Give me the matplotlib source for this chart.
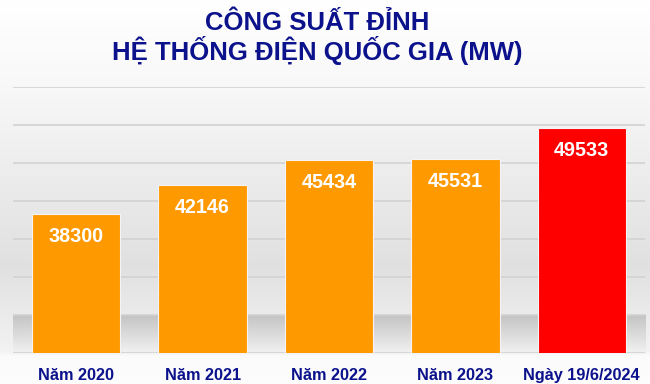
import numpy as np
import matplotlib.pyplot as plt

# Dữ liệu
categories = ['Năm 2020', 'Năm 2021', 'Năm 2022', 'Năm 2023', 'Ngày 19/6/2024']
values = [38300, 42146, 45434, 45531, 49533]
bar_colors = ['#FF9900', '#FF9900', '#FF9900', '#FF9900', '#FF0000']

W, H = 650, 384
navy = '#0b128c'
fig = plt.figure(figsize=(W / 100, H / 100), dpi=100)

# nền xám chuyển màu (giống kiểu nền của Excel)
yy = np.arange(H)
prof = np.interp(yy, [0, 80, 265, 350, 356, 384], [1.0, 0.975, 0.88, 0.95, 0.985, 0.99])
img = np.repeat(prof[:, None], W, axis=1)
band = (yy >= 315) & (yy <= 353)
xs = np.arange(W)
inside = (xs >= 13) & (xs <= 645)
t = (yy[band] - 315) / 38.0
img[np.ix_(band, inside)] = (0.77 + 0.18 * t)[:, None]
bg = fig.add_axes([0, 0, 1, 1], zorder=-10)
bg.imshow(np.dstack([img, img, img]), aspect='auto', extent=[0, 1, 0, 1],
          interpolation='bilinear')
bg.axis('off')

ax = fig.add_axes([13 / W, 1 - 353.3 / H, 632 / W, (353.3 - 86.7) / H])
ax.patch.set_alpha(0)
x = np.arange(len(categories))
ax.bar(x, values, width=0.7, color=bar_colors, edgecolor='#f4f4f4',
       linewidth=0.8, zorder=3)
ax.set_ylim(20000, 55000)
ax.set_xlim(-0.5, 4.5)
ax.set_yticks(range(20000, 55001, 5000))
ax.yaxis.grid(True, color='#d2d2d2', linewidth=1.2, zorder=0)
ax.tick_params(left=False, bottom=False, labelleft=False)
for s in ax.spines.values():
    s.set_visible(False)
ax.set_xticks(x)
ax.set_xticklabels(categories, fontfamily='Liberation Sans', fontweight='bold',
                   fontsize=11.7, color=navy)
ax.tick_params(axis='x', pad=7)

for xi, v in zip(x, values):
    ax.annotate(str(v), (xi, v), xytext=(0, -20.2), textcoords='offset points',
                ha='center', va='baseline', color='white', fontsize=14.2,
                fontweight='bold', fontfamily='Liberation Sans', zorder=4)

fig.text(317 / W, 1 - 30 / H, 'CÔNG SUẤT ĐỈNH', ha='center', va='baseline',
         fontsize=18.5, fontweight='bold', fontfamily='Liberation Sans', color=navy)
fig.text(317 / W, 1 - 60 / H, 'HỆ THỐNG ĐIỆN QUỐC GIA (MW)', ha='center',
         va='baseline', fontsize=18.5, fontweight='bold', fontfamily='Liberation Sans',
         color=navy)

fig.savefig('out.png', dpi=100)
